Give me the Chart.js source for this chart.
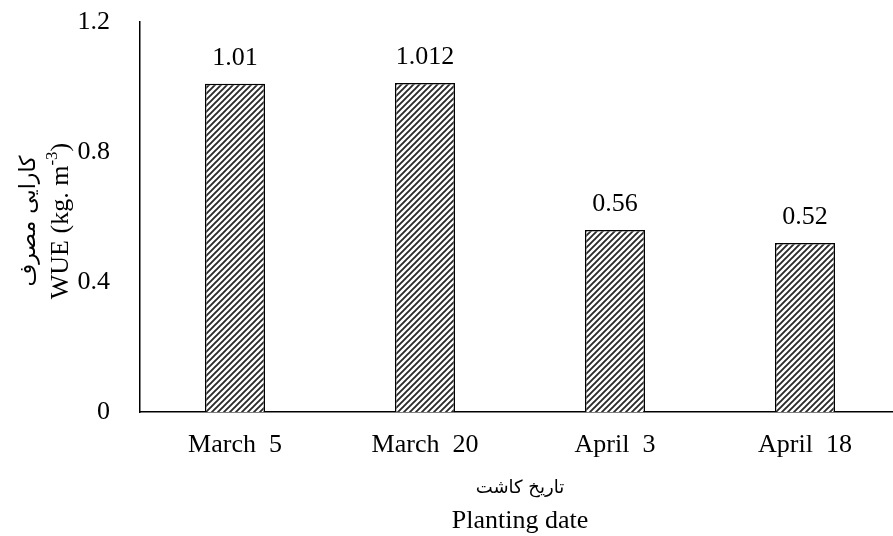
<!DOCTYPE html>
<html><head><meta charset="utf-8">
<script src="https://cdn.jsdelivr.net/npm/chart.js@4"></script>
<style>html,body{margin:0;padding:0;overflow:hidden;background:#fff;width:893px;height:536px}
#wrap{width:900px;height:536px}</style></head>
<body><div id="wrap"><canvas id="c" width="900" height="536"></canvas></div>
<script>
const categories = ['March  5', 'March  20', 'April  3', 'April  18'];
const wueValues = [1.01, 1.012, 0.56, 0.52];
const valueLabels = ['1.01', '1.012', '0.56', '0.52'];
const yTickLabels = ['0', '0.4', '0.8', '1.2'];
const yTitleFa = 'کارایی مصرف';
const yTitleEn = 'WUE (kg. m';
const yTitleSup = '-3';
const yTitleEnd = ')';
const xTitleFa = 'تاریخ کاشت';
const xTitleEn = 'Planting date';

const SERIF = '"Liberation Serif", "Times New Roman", serif';
const FA = '"DejaVu Sans", "Noto Sans", sans-serif';

const canvas = document.getElementById('c');
const ctx = canvas.getContext('2d');

function makeHatch() {
  const s = 6;
  const p = document.createElement('canvas');
  p.width = s; p.height = s;
  const g = p.getContext('2d');
  g.fillStyle = '#fff'; g.fillRect(0, 0, s, s);
  g.strokeStyle = '#2a2a2a'; g.lineWidth = 1.9;
  g.beginPath();
  g.moveTo(-1, s + 1); g.lineTo(s + 1, -1);
  g.moveTo(-1, 1); g.lineTo(1, -1);
  g.moveTo(s - 1, s + 1); g.lineTo(s + 1, s - 1);
  g.stroke();
  return ctx.createPattern(p, 'repeat');
}

const overlay = {
  id: 'overlay',
  afterDatasetsDraw(chart) {
    const c = chart.ctx;
    const meta = chart.getDatasetMeta(0);
    c.save();
    c.fillStyle = '#000';
    c.font = '26px ' + SERIF;
    c.textAlign = 'center';
    c.textBaseline = 'alphabetic';
    meta.data.forEach((bar, i) => {
      c.fillText(valueLabels[i], bar.x, bar.y - 19);
    });
    const a = chart.chartArea;
    const cx = (a.left + a.right) / 2;
    // x titles
    c.font = '18px ' + FA;
    c.textBaseline = 'middle';
    c.fillText(xTitleFa, cx, 488);
    c.font = '26px ' + SERIF;
    c.fillText(xTitleEn, cx, 521);
    // y titles
    const cy = 221;
    c.save();
    c.translate(29, cy);
    c.rotate(-Math.PI / 2);
    c.font = '22px ' + FA;
    c.textAlign = 'center';
    c.fillText(yTitleFa, 0, 0);
    c.restore();
    c.save();
    c.translate(61, cy);
    c.rotate(-Math.PI / 2);
    c.textAlign = 'left';
    c.font = '26px ' + SERIF;
    const w1 = c.measureText(yTitleEn).width;
    c.font = '17px ' + SERIF;
    const w2 = c.measureText(yTitleSup).width;
    c.font = '26px ' + SERIF;
    const w3 = c.measureText(yTitleEnd).width;
    let x0 = -(w1 + w2 + w3) / 2;
    c.fillText(yTitleEn, x0, 0);
    c.font = '17px ' + SERIF;
    c.fillText(yTitleSup, x0 + w1, -8);
    c.font = '26px ' + SERIF;
    c.fillText(yTitleEnd, x0 + w1 + w2, 0);
    c.restore();
    c.restore();
  }
};

new Chart(ctx, {
  type: 'bar',
  data: {
    labels: categories,
    datasets: [{
      data: wueValues,
      backgroundColor: makeHatch(),
      borderColor: '#000',
      borderWidth: 1.5,
      barPercentage: 0.316,
      categoryPercentage: 1
    }]
  },
  options: {
    responsive: false,
    animation: false,
    devicePixelRatio: 1,
    layout: { padding: { top: 22, left: 0, right: 0, bottom: 0 } },
    plugins: { legend: { display: false }, tooltip: { enabled: false } },
    scales: {
      x: {
        grid: { display: false },
        border: { display: true, color: '#000', width: 1.5 },
        ticks: { color: '#000', font: { family: SERIF, size: 26 }, padding: 10, maxRotation: 0 },
        afterFit(s) { s.height = 124; s.paddingLeft = 0; s.paddingRight = 0; }
      },
      y: {
        min: 0, max: 1.2,
        grid: { display: false },
        border: { display: true, color: '#000', width: 1.5 },
        ticks: {
          stepSize: 0.4, color: '#000', padding: 22,
          font: { family: SERIF, size: 26 },
          callback: (v, i) => yTickLabels[i]
        },
        afterFit(s) { s.width = 140; s.paddingTop = 0; s.paddingBottom = 0; }
      }
    }
  },
  plugins: [overlay]
});
</script>
</body></html>
